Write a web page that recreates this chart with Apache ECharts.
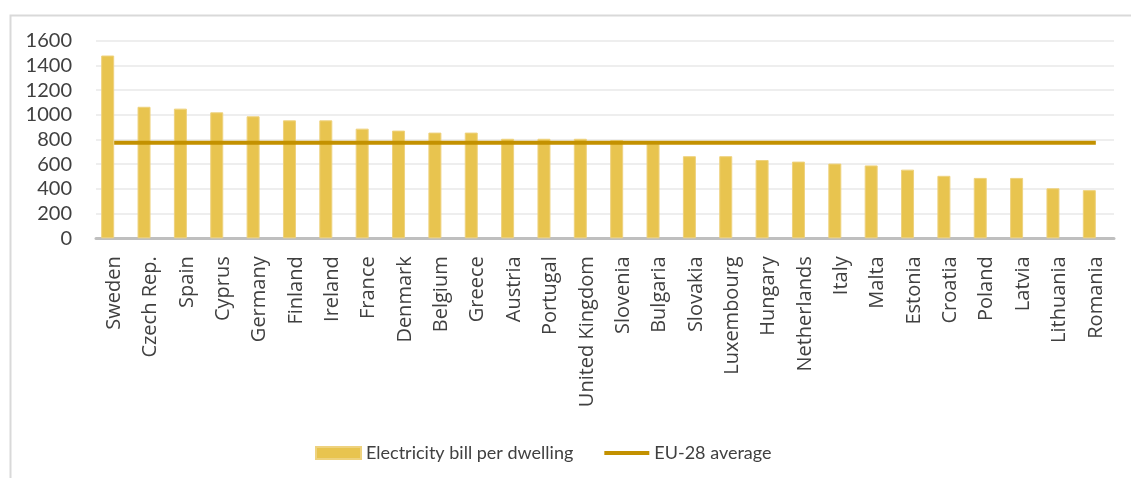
<!DOCTYPE html>
<html>
<head>
<meta charset="utf-8">
<script src="https://cdn.jsdelivr.net/npm/echarts@6/dist/echarts.min.js"></script>
<style>
html,body{margin:0;padding:0;background:#fff;}
#chart{width:1131px;height:478px;}
</style>
</head>
<body>
<div id="chart"></div>
<script>
const categories = ['Sweden','Czech Rep.','Spain','Cyprus','Germany','Finland','Ireland','France','Denmark','Belgium','Greece','Austria','Portugal','United Kingdom','Slovenia','Bulgaria','Slovakia','Luxembourg','Hungary','Netherlands','Italy','Malta','Estonia','Croatia','Poland','Latvia','Lithuania','Romania'];
const billPerDwelling = [1480,1065,1050,1020,988,955,955,888,872,856,856,806,806,806,795,765,665,665,634,621,605,590,556,506,489,489,405,390];
const euAverageValue = 773;
const euAverage = categories.map(() => euAverageValue);
const yTicks = [0,200,400,600,800,1000,1200,1400,1600];

const chart = echarts.init(document.getElementById('chart'), null, {renderer:'canvas'});
chart.setOption({
  animation:false,
  backgroundColor:'#ffffff',
  graphic:[{
    type:'rect', left:8, top:13, shape:{x:0,y:0,width:1140,height:480},
    style:{fill:'none', stroke:'#d9d9d9', lineWidth:2}, silent:true, z:-10
  }],
  grid:{left:96, right:17, top:40.7, bottom:239.7, containLabel:false},
  legend:{
    data:[
      {name:'Electricity bill per dwelling', icon:'rect'},
      {name:'EU-28 average', itemStyle:{opacity:0}, lineStyle:{width:4, color:'#C39100'}}
    ],
    left:310, top:439, itemWidth:45, itemHeight:12, itemGap:29,
    textStyle:{fontFamily:'Lato', fontSize:18, color:'#404040'}
  },
  xAxis:{
    type:'category', data:categories, boundaryGap:true,
    axisLine:{lineStyle:{color:'#bfbfbf', width:3}},
    axisTick:{show:false},
    axisLabel:{rotate:90, interval:0, margin:18, fontFamily:'Open Sans', fontSize:20, color:'#404040'}
  },
  yAxis:{
    type:'value', min:yTicks[0], max:yTicks[yTicks.length-1], interval:200,
    axisLine:{show:false}, axisTick:{show:false},
    axisLabel:{margin:24, fontFamily:'Lato', fontSize:20, color:'#404040', formatter:(v)=>String(v)},
    splitLine:{lineStyle:{color:'#eeeeee', width:2}}
  },
  series:[
    {name:'Electricity bill per dwelling', type:'bar', data:billPerDwelling, barWidth:13, barGap:'0%',
     itemStyle:{color:'#E8C44F', borderColor:'#EED27E', borderWidth:1}},
    {name:'_spacer', type:'bar', data:categories.map(()=>null), barWidth:13, barGap:'0%'},
    {name:'EU-28 average', type:'line', data:euAverage, symbol:'none',
     lineStyle:{color:'#C39100', width:4}, itemStyle:{color:'#C39100'}, z:5}
  ]
});
</script>
</body>
</html>
